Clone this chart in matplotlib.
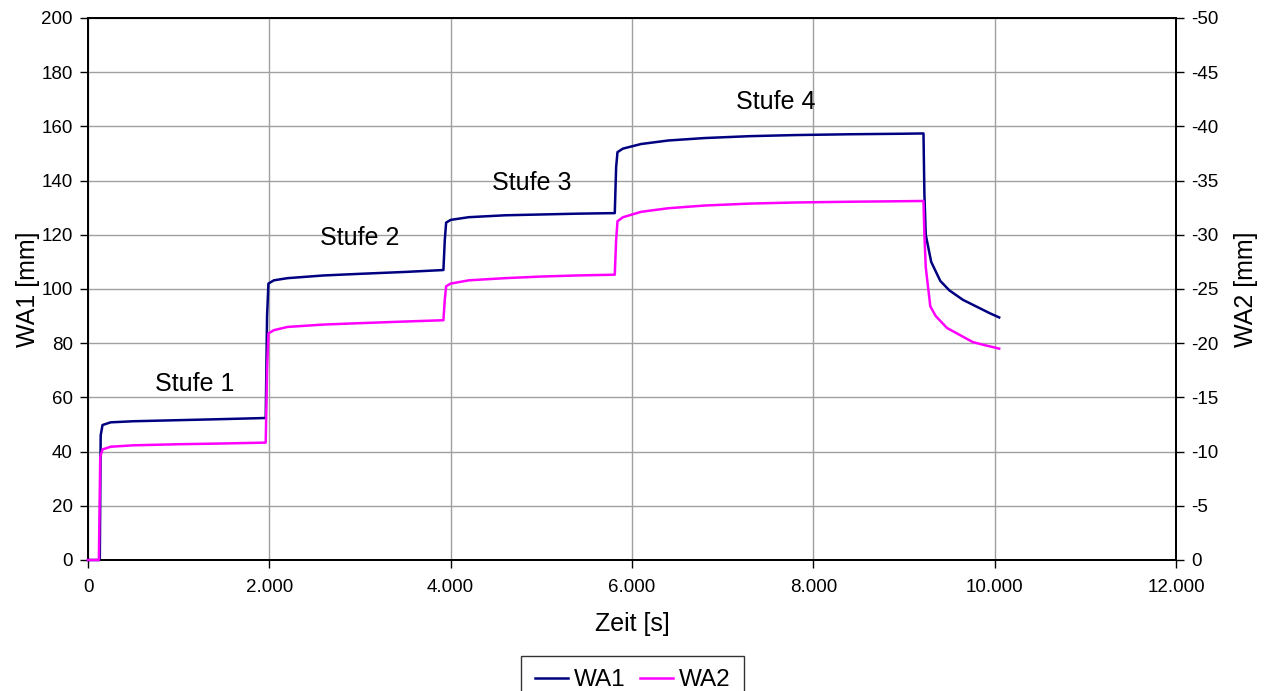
import matplotlib

matplotlib.use("Agg")
import matplotlib.pyplot as plt
from matplotlib.ticker import FuncFormatter, MultipleLocator

plt.rcParams["font.family"] = ["Liberation Sans", "DejaVu Sans"]
plt.rcParams["axes.unicode_minus"] = False

# time [s] and WA1 [mm]
t_wa1 = [0, 130, 140, 160, 250, 500, 1000, 1500, 1960, 1975, 1990, 2050, 2200,
         2600, 3000, 3500, 3920, 3935, 3950, 4000, 4200, 4600, 5000, 5400,
         5810, 5825, 5840, 5900, 6100, 6400, 6800, 7300, 7800, 8400, 9000,
         9215, 9225, 9240, 9300, 9400, 9500, 9650, 9800, 9950, 10050]
wa1 = [0, 0, 46, 49.8, 50.8, 51.2, 51.6, 52, 52.4, 90, 102, 103.2, 104,
       105, 105.6, 106.3, 107, 118, 124.5, 125.5, 126.5, 127.2, 127.5, 127.8,
       128, 145, 150.5, 151.8, 153.5, 154.8, 155.7, 156.4, 156.8, 157.1, 157.3,
       157.4, 135, 120, 110, 103, 99.5, 96, 93.5, 91, 89.5]

# time [s] and WA2 [mm]
t_wa2 = [0, 120, 135, 160, 250, 500, 1000, 1500, 1960, 1975, 1990, 2050, 2200,
         2600, 3000, 3500, 3920, 3935, 3950, 4000, 4200, 4600, 5000, 5400,
         5810, 5825, 5840, 5900, 6100, 6400, 6800, 7300, 7800, 8400, 9000,
         9215, 9225, 9240, 9290, 9350, 9475, 9650, 9760, 9900, 10050]
wa2 = [0, 0, -9.5, -10.2, -10.45, -10.58, -10.68, -10.75, -10.83, -17.5,
       -20.9, -21.2, -21.5, -21.72, -21.85, -22.0, -22.12, -24.0, -25.25,
       -25.5, -25.8, -26.0, -26.15, -26.25, -26.32, -29.5, -31.25, -31.62,
       -32.12, -32.45, -32.7, -32.88, -32.98, -33.05, -33.1, -33.12, -30.0,
       -27.0, -23.4, -22.5, -21.4, -20.6, -20.1, -19.8, -19.5]

stage_labels = ["Stufe 1", "Stufe 2", "Stufe 3", "Stufe 4"]
stage_x = [1180, 3000, 4890, 7580]
stage_y = [65, 119, 139, 169]

fig = plt.figure(figsize=(12.65, 6.91), dpi=100)
ax = fig.add_axes([88 / 1265, 1 - 560 / 691, (1176 - 88) / 1265, (560 - 18) / 691])
ax2 = ax.twinx()

l1, = ax.plot(t_wa1, wa1, color="#000080", lw=1.8, label="WA1", zorder=3, clip_on=False)
l2, = ax2.plot(t_wa2, wa2, color="#FF00FF", lw=1.8, label="WA2", zorder=3, clip_on=False)

ax.set_xlim(0, 12000)
ax.set_ylim(0, 200)
ax2.set_ylim(0, -50)
ax.xaxis.set_major_locator(MultipleLocator(2000))
ax.yaxis.set_major_locator(MultipleLocator(20))
ax2.yaxis.set_major_locator(MultipleLocator(5))
ax.xaxis.set_major_formatter(FuncFormatter(lambda v, p: f"{int(v):,}".replace(",", ".")))

ax.grid(True, color="#a0a0a0", lw=1)
ax.set_axisbelow(True)
for a in (ax, ax2):
    for s in a.spines.values():
        s.set_color("black")
        s.set_linewidth(1.3)
    a.tick_params(labelsize=13.5, length=6, width=1, direction="out", pad=5)
ax.tick_params(axis="x", pad=8)

ax.set_xlabel("Zeit [s]", fontsize=18, labelpad=11)
ax.set_ylabel("WA1 [mm]", fontsize=18, labelpad=1)
ax2.set_ylabel("WA2 [mm]", fontsize=18, labelpad=11)

for lab, x, y in zip(stage_labels, stage_x, stage_y):
    ax.text(x, y, lab, fontsize=18, ha="center", va="center")

leg = fig.legend([l1, l2], ["WA1", "WA2"], loc="upper center",
                 bbox_to_anchor=(0.5, 1 - 656 / 691), ncol=2, fontsize=17.5,
                 frameon=True, fancybox=False, edgecolor="black",
                 handlelength=1.35, handletextpad=0.25, columnspacing=0.6,
                 borderpad=0.55, borderaxespad=0)
leg.get_frame().set_linewidth(1)

fig.savefig("out.png", dpi=100)
